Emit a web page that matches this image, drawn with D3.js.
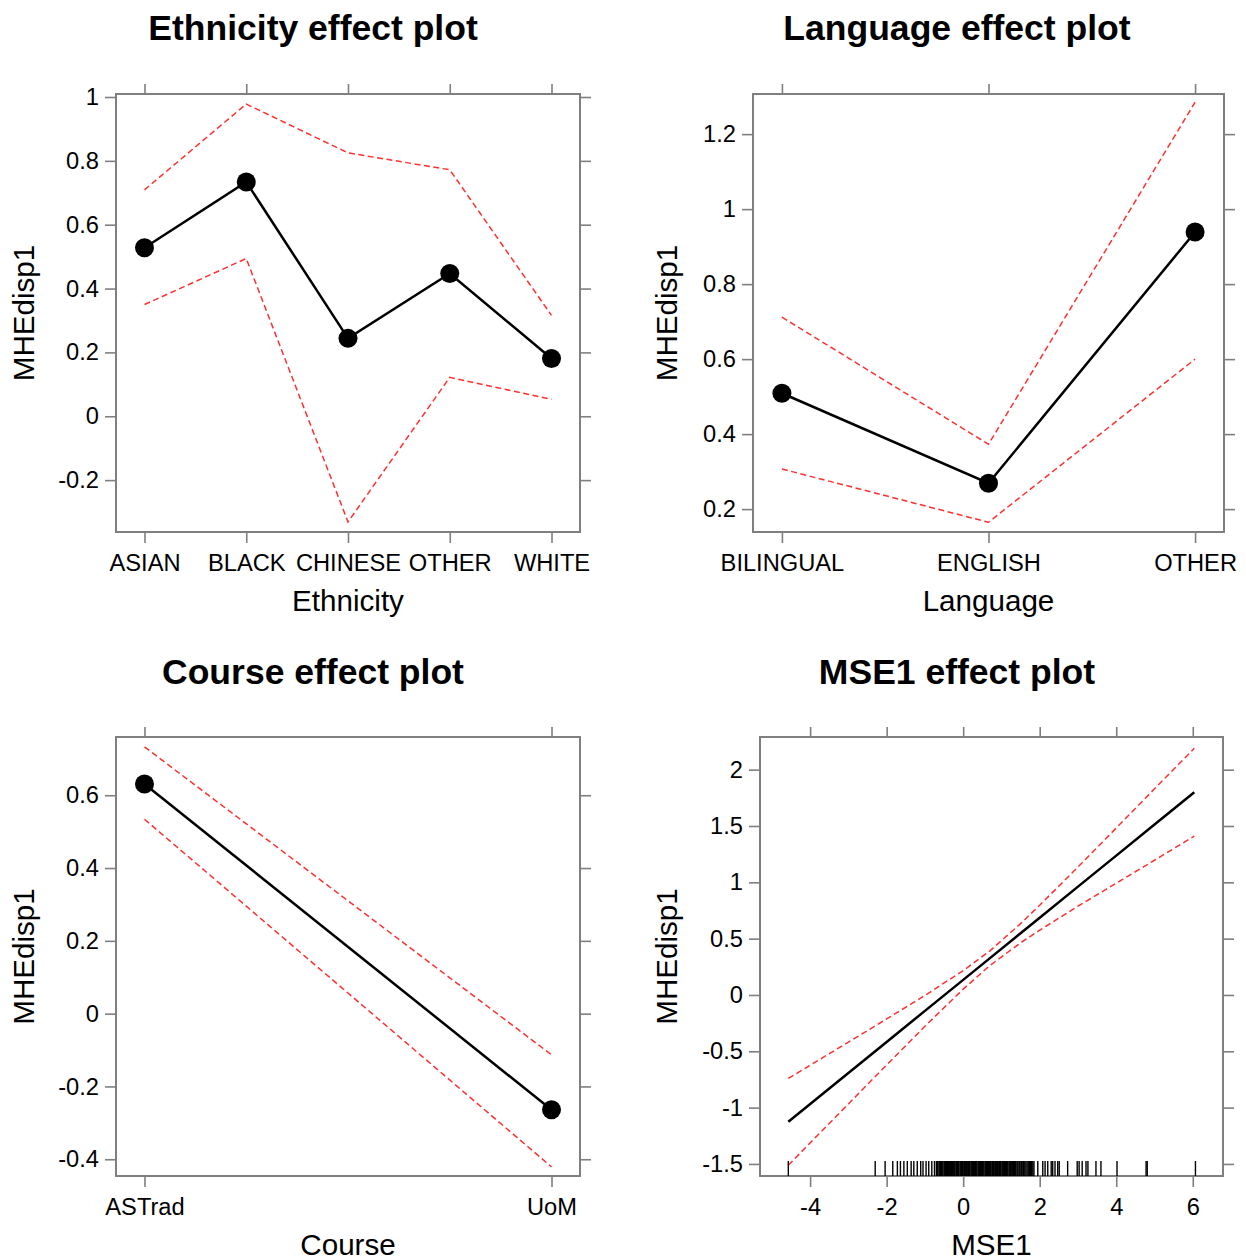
<!DOCTYPE html>
<html>
<head>
<meta charset="utf-8">
<script src="https://cdn.jsdelivr.net/npm/d3@7"></script>
<style>
body { margin:0; background:#fff; }
text { font-family: "Liberation Sans", Arial, sans-serif; fill:#000; }
</style>
</head>
<body>
<script>
// values
var ethLevels = ["ASIAN","BLACK","CHINESE","OTHER","WHITE"];
var ethFit    = [0.528, 0.734, 0.244, 0.447, 0.181];
var ethUpper  = [0.709, 0.978, 0.825, 0.772, 0.316];
var ethLower  = [0.350, 0.494, -0.331, 0.122, 0.053];
var ethTicks  = [-0.2, 0, 0.2, 0.4, 0.6, 0.8, 1];

var langLevels = ["BILINGUAL","ENGLISH","OTHER"];
var langFit    = [0.509, 0.269, 0.939];
var langUpper  = [0.712, 0.373, 1.285];
var langLower  = [0.307, 0.165, 0.600];
var langTicks  = [0.2, 0.4, 0.6, 0.8, 1, 1.2];

var courseLevels = ["ASTrad","UoM"];
var courseFit    = [0.631, -0.264];
var courseUpper  = [0.733, -0.113];
var courseLower  = [0.534, -0.421];
var courseTicks  = [-0.4, -0.2, 0, 0.2, 0.4, 0.6];

var mseX     = [-4.57, -3, -2, -1, 0, 0.7, 1.5, 2, 3, 4, 5, 6.04];
var mseFit   = [-1.126, -0.693, -0.417, -0.141, 0.134, 0.327, 0.548, 0.686, 0.962, 1.237, 1.513, 1.80];
var mseUpper = [-0.741, -0.419, -0.213, -0.004, 0.216, 0.392, 0.633, 0.797, 1.136, 1.482, 1.830, 2.19];
var mseLower = [-1.511, -0.967, -0.621, -0.278, 0.052, 0.262, 0.463, 0.575, 0.788, 0.992, 1.196, 1.41];
var mseYTicks = [-1.5, -1, -0.5, 0, 0.5, 1, 1.5, 2];
var mseXTicks = [-4, -2, 0, 2, 4, 6];
var mseRug = [-4.57, -2.30, -2.04, -1.84, -1.72, -1.64, -1.55, -1.46, -1.36, -1.29, -1.20, -1.11,
  -1.05, -0.97, -0.90, -0.82, -0.75,
  -0.70, -0.68, -0.66, -0.63, -0.61, -0.59, -0.57, -0.55, -0.53, -0.50, -0.48, -0.46, -0.44,
  -0.41, -0.39, -0.37, -0.35, -0.33, -0.30, -0.28, -0.26, -0.24, -0.22, -0.19, -0.17, -0.15,
  -0.13, -0.11, -0.08, -0.06, -0.04, -0.02, 0.00, 0.03, 0.05, 0.07, 0.09, 0.12, 0.14, 0.16,
  0.18, 0.21, 0.23, 0.25, 0.27, 0.30, 0.32, 0.34, 0.36, 0.39, 0.41, 0.43, 0.45, 0.48, 0.50,
  0.52, 0.54, 0.57, 0.59, 0.61, 0.63, 0.66, 0.68, 0.70, 0.72, 0.75, 0.77, 0.79, 0.81, 0.84,
  0.86, 0.88, 0.90, 0.93, 0.95, 0.97, 0.99, 1.02, 1.04, 1.06, 1.08, 1.11, 1.13, 1.15, 1.17,
  1.20, 1.22, 1.24, 1.27, 1.29, 1.31, 1.34, 1.36, 1.38, 1.41, 1.43, 1.46, 1.48, 1.51, 1.53,
  1.56, 1.58, 1.61, 1.64, 1.67, 1.70, 1.73, 1.76, 1.79, 1.82, 1.85,
  1.95, 2.08, 2.14, 2.21, 2.30, 2.34, 2.40, 2.47, 2.51, 2.73, 2.98, 3.03,
  3.11, 3.21, 3.26, 3.47, 3.60, 4.02, 4.78, 4.81, 6.07];

var width = 1246;
var height = 1260;
var boxColor = "#7f7f7f";
var ciColor = "#ff3030";
var baseSize = 29.6;

var svg = d3.select("body").append("svg")
  .attr("width", width)
  .attr("height", height);

var fmt = function(d){ return String(d); };

var drawPanel = function(p)
{
  var g = svg.append("g");
  var b = p.box;
  var yScale = d3.scaleLinear().domain(p.yDomain).range([b.y + b.h, b.y]);
  var xScale;
  if (p.levels) {
    xScale = d3.scalePoint().domain(p.levels)
      .range([b.x, b.x + b.w])
      .padding(0.07 * (p.levels.length - 1));
  } else {
    xScale = d3.scaleLinear().domain(p.xDomain).range([b.x, b.x + b.w]);
  }

  // axes on all four sides, labels only left and bottom
  var left = g.append("g").attr("transform", "translate(" + b.x + ",0)")
    .call(d3.axisLeft(yScale).tickValues(p.yTicks).tickSize(11).tickPadding(6).tickFormat(fmt));
  var right = g.append("g").attr("transform", "translate(" + (b.x + b.w) + ",0)")
    .call(d3.axisRight(yScale).tickValues(p.yTicks).tickSize(11).tickFormat(""));
  var xAxisB = p.levels ? d3.axisBottom(xScale) : d3.axisBottom(xScale).tickValues(p.xTicks).tickFormat(fmt);
  var xAxisT = p.levels ? d3.axisTop(xScale).tickFormat("") : d3.axisTop(xScale).tickValues(p.xTicks).tickFormat("");
  var bottom = g.append("g").attr("transform", "translate(0," + (b.y + b.h) + ")")
    .call(xAxisB.tickSize(11).tickPadding(11));
  var top = g.append("g").attr("transform", "translate(0," + b.y + ")")
    .call(xAxisT.tickSize(10));

  [left, right, bottom, top].forEach(function(a){
    a.select(".domain").remove();
    a.selectAll(".tick line").attr("stroke", boxColor).attr("stroke-width", 1.6);
    a.selectAll(".tick text")
      .style("font-family", "'Liberation Sans', Arial, sans-serif")
      .attr("font-size", baseSize * 0.8)
      .attr("fill", "#000");
  });

  g.append("rect")
    .attr("x", b.x).attr("y", b.y)
    .attr("width", b.w).attr("height", b.h)
    .attr("fill", "none")
    .attr("stroke", boxColor)
    .attr("stroke-width", 2);

  var xs = p.levels ? p.levels : p.xs;
  var line = d3.line()
    .x(function(d){ return xScale(d[0]); })
    .y(function(d){ return yScale(d[1]); });

  [p.upper, p.lower].forEach(function(vals){
    g.append("path")
      .datum(xs.map(function(x, i){ return [x, vals[i]]; }))
      .attr("d", line)
      .attr("fill", "none")
      .attr("stroke", ciColor)
      .attr("stroke-width", 1.5)
      .attr("stroke-dasharray", "6,3.5");
  });

  g.append("path")
    .datum(xs.map(function(x, i){ return [x, p.fit[i]]; }))
    .attr("d", line)
    .attr("fill", "none")
    .attr("stroke", "#000")
    .attr("stroke-width", 2.5);

  if (p.levels) {
    g.selectAll("circle.pt")
      .data(p.fit)
      .enter().append("circle")
      .attr("class", "pt")
      .attr("cx", function(d, i){ return xScale(p.levels[i]); })
      .attr("cy", function(d){ return yScale(d); })
      .attr("r", 9.5)
      .attr("fill", "#000");
  }

  if (p.rug) {
    g.selectAll("line.rug")
      .data(p.rug)
      .enter().append("line")
      .attr("class", "rug")
      .attr("x1", function(d){ return xScale(d); })
      .attr("x2", function(d){ return xScale(d); })
      .attr("y1", b.y + b.h)
      .attr("y2", b.y + b.h - 15)
      .attr("stroke", "#000")
      .attr("stroke-width", 1.4);
  }

  // titles and axis labels
  svg.append("text")
    .attr("x", p.titleX).attr("y", p.titleY)
    .attr("text-anchor", "middle")
    .attr("font-size", baseSize * 1.2)
    .attr("font-weight", "bold")
    .text(p.title);

  svg.append("text")
    .attr("x", b.x + b.w / 2).attr("y", b.y + b.h + 79)
    .attr("text-anchor", "middle")
    .attr("font-size", baseSize)
    .text(p.xlab);

  svg.append("text")
    .attr("transform", "translate(" + p.ylabX + "," + (b.y + b.h / 2) + ") rotate(-90)")
    .attr("text-anchor", "middle")
    .attr("dy", "0.35em")
    .attr("font-size", baseSize)
    .text("MHEdisp1");
};

drawPanel({
  title: "Ethnicity effect plot", titleX: 313, titleY: 40,
  xlab: "Ethnicity", ylabX: 24,
  box: {x: 116, y: 94, w: 464, h: 438},
  levels: ethLevels, yDomain: [-0.3625, 1.0094], yTicks: ethTicks,
  fit: ethFit, upper: ethUpper, lower: ethLower
});

drawPanel({
  title: "Language effect plot", titleX: 957, titleY: 40,
  xlab: "Language", ylabX: 667,
  box: {x: 753, y: 94, w: 471, h: 438},
  levels: langLevels, yDomain: [0.139, 1.307], yTicks: langTicks,
  fit: langFit, upper: langUpper, lower: langLower
});

drawPanel({
  title: "Course effect plot", titleX: 313, titleY: 684,
  xlab: "Course", ylabX: 24,
  box: {x: 116, y: 737, w: 464, h: 439},
  levels: courseLevels, yDomain: [-0.446, 0.760], yTicks: courseTicks,
  fit: courseFit, upper: courseUpper, lower: courseLower
});

drawPanel({
  title: "MSE1 effect plot", titleX: 957, titleY: 684,
  xlab: "MSE1", ylabX: 667,
  box: {x: 760, y: 737, w: 463, h: 439},
  xs: mseX, xDomain: [-5.31, 6.79], xTicks: mseXTicks,
  yDomain: [-1.607, 2.29], yTicks: mseYTicks,
  fit: mseFit, upper: mseUpper, lower: mseLower,
  rug: mseRug
});
</script>
</body>
</html>
